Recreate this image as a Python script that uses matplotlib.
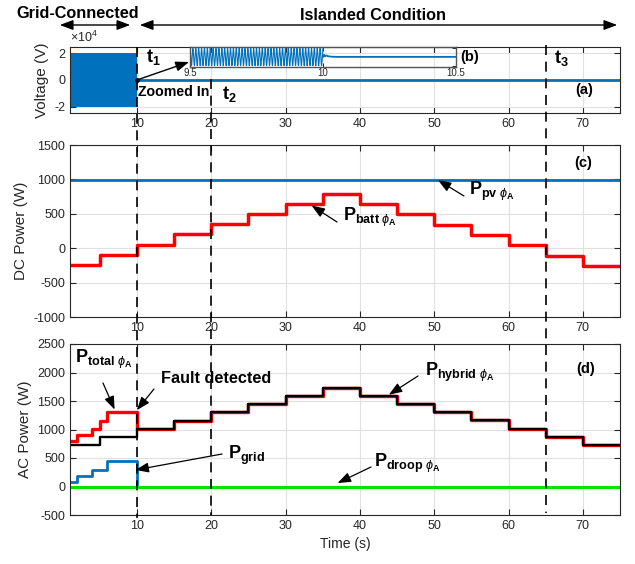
import numpy as np
import matplotlib.pyplot as plt
import matplotlib.transforms as mtransforms
from matplotlib.patches import FancyArrowPatch

plt.rcParams['font.family'] = ['Liberation Sans', 'DejaVu Sans']
plt.rcParams['axes.unicode_minus'] = False
plt.rcParams['mathtext.fontset'] = 'custom'
plt.rcParams['mathtext.rm'] = 'Liberation Sans'
plt.rcParams['mathtext.bf'] = 'Liberation Sans:bold'
plt.rcParams['mathtext.it'] = 'Liberation Sans:italic'

W, H = 635, 564

# ---- data ----
# (a) terminal voltage: envelope while grid-connected, then collapsed
v_grid_t = [1, 10]
v_grid_amp = [2.0e4, 2.0e4]
v_isl_t = [10, 75]
v_isl = [0, 0]
v_ticks = [-2, 0, 2]        # x 10^4

# (b) zoom 9.5 .. 10.5 s
zoom_freq = 92          # apparent cycles per second in the zoomed window
zoom_amp = 2.0e4
zoom_after_t = [10.0, 10.004, 10.008, 10.012, 10.018, 10.025, 10.035, 10.05, 10.5]
zoom_after_v = [0, 5000, 1500, 3500, 2000, 1200, 600, 300, 300]

# (c) DC power, load steps every 5 s
step_t = [1, 5, 10, 15, 20, 25, 30, 35, 40, 45, 50, 55, 60, 65, 70, 75]
p_batt = [-250, -100, 50, 200, 350, 490, 640, 790, 640, 490, 340, 195, 40, -110, -255]
p_pv = 990

# (d) AC power
p_hybrid = [720, 860, 1010, 1150, 1300, 1440, 1590, 1730, 1585, 1440, 1300, 1160, 1010, 870, 725]
total_t = [1, 2, 4, 5, 6, 10]
p_total = [790, 905, 1005, 1145, 1300]
grid_t = [1, 2, 4, 6, 10, 75]
p_grid = [75, 190, 285, 440, 0]
p_droop = 0

event_t = [10, 20, 65]

BLUE = '#0072BD'
GREY = '#262626'


def steps(edges, vals):
    x = np.repeat(edges, 2)[1:-1]
    y = np.repeat(vals, 2)
    return x, y


def fig_xy(px, py):
    return px / W, 1 - py / H


def style(ax):
    ax.tick_params(direction='in', top=True, right=True, length=4, width=0.8,
                   colors=GREY, labelsize=9)
    for s in ax.spines.values():
        s.set_color(GREY)
        s.set_linewidth(0.8)
    ax.grid(True, color='#e0e0e0', lw=0.8)
    ax.set_axisbelow(True)
    ax.set_xlim(1, 75)
    ax.set_xticks([10, 20, 30, 40, 50, 60, 70])


fig = plt.figure(figsize=(6.35, 5.64), dpi=100)
L, R = 70 / W, 550 / W
ax_a = fig.add_axes([L, 1 - 113 / H, R, 66 / H])
ax_c = fig.add_axes([L, 1 - 317 / H, R, 172 / H])
ax_d = fig.add_axes([L, 1 - 515 / H, R, 171 / H])

# (a)
style(ax_a)
ax_a.fill_between(v_grid_t, [-a for a in v_grid_amp], v_grid_amp, color=BLUE, lw=0)
ax_a.plot(v_isl_t, v_isl, color=BLUE, lw=2)
ax_a.set_ylim(-2.45e4, 2.45e4)
ax_a.set_yticks([v * 1e4 for v in v_ticks])
ax_a.set_yticklabels([str(v) for v in v_ticks])
ax_a.text(0, 1.03, r'$\times10^4$', transform=ax_a.transAxes, fontsize=9, color=GREY,
          ha='left', va='bottom')
ax_a.set_ylabel('Voltage (V)', fontsize=11, color=GREY, labelpad=4)

# (b) inset
ax_b = fig.add_axes([190 / W, 1 - 67 / H, 266 / W, 20 / H])
ax_b.set_facecolor('none')
tz = np.linspace(9.5, 10.0, 2000)
ax_b.plot(tz, zoom_amp * np.sin(2 * np.pi * zoom_freq * (tz - 9.5) + np.pi / 2), color=BLUE, lw=0.8)
ax_b.plot(zoom_after_t, zoom_after_v, color=BLUE, lw=1.3)
ax_b.set_xlim(9.5, 10.5)
ax_b.set_ylim(-2.3e4, 2.3e4)
ax_b.set_xticks([9.5, 10, 10.5])
ax_b.set_xticklabels(['9.5', '10', '10.5'])
ax_b.set_yticks([-2e4, 2e4])
ax_b.set_yticklabels([])
ax_b.tick_params(direction='in', top=True, right=True, left=False, length=3, width=0.7,
                 colors=GREY, labelsize=7, pad=1)
for s in ax_b.spines.values():
    s.set_color('#555555')
    s.set_linewidth(1.0)

# (c)
style(ax_c)
ax_c.plot([1, 75], [p_pv, p_pv], color=BLUE, lw=2)
ax_c.plot(*steps(step_t, p_batt), color='red', lw=2.5)
ax_c.set_ylim(-1000, 1500)
ax_c.set_yticks([-1000, -500, 0, 500, 1000, 1500])
ax_c.set_ylabel('DC Power (W)', fontsize=11, color=GREY, labelpad=4)

# (d)
style(ax_d)
ax_d.plot(*steps(grid_t, p_grid), color=BLUE, lw=2)
ax_d.plot([1, 75], [p_droop, p_droop], color='#00e600', lw=2.2)
ax_d.plot(*steps(total_t + step_t[3:], p_total + p_hybrid[2:]), color='red', lw=2.4)
ax_d.plot(*steps(step_t, p_hybrid), color='black', lw=1.7)
ax_d.set_ylim(-500, 2500)
ax_d.set_yticks([-500, 0, 500, 1000, 1500, 2000, 2500])
ax_d.set_ylabel('AC Power (W)', fontsize=11, color=GREY, labelpad=4)
ax_d.set_xlabel('Time (s)', fontsize=10, color=GREY, labelpad=4)

# event markers crossing all panels
tr = mtransforms.blended_transform_factory(ax_d.transData, fig.transFigure)
for t, (y0, y1) in zip(event_t, [(47, 518), (79, 515), (45, 513)]):
    fig.add_artist(plt.Line2D([t, t], [1 - y0 / H, 1 - y1 / H], transform=tr,
                              color='black', lw=1.2, ls=(0, (6, 4))))

# top banners
bold = dict(fontweight='bold', color='black')
fig.text(*fig_xy(78, 18), 'Grid-Connected', ha='center', va='baseline', fontsize=11.7, **bold)
fig.text(*fig_xy(373, 20), 'Islanded Condition', ha='center', va='baseline', fontsize=11.7, **bold)
for x0, x1 in [(57, 133), (137, 620)]:
    fig.add_artist(FancyArrowPatch(fig_xy(x0, 25), fig_xy(x1, 25), transform=fig.transFigure,
                                   arrowstyle='<|-|>,head_length=0.8,head_width=0.3',
                                   mutation_scale=10, color='black', lw=1))

# panel labels
fig.text(*fig_xy(146, 62), r'$\mathbf{t}_{\mathbf{1}}$', fontsize=13, va='baseline')
fig.text(*fig_xy(222, 99), r'$\mathbf{t}_{\mathbf{2}}$', fontsize=13, va='baseline')
fig.text(*fig_xy(554, 63), r'$\mathbf{t}_{\mathbf{3}}$', fontsize=13, va='baseline')
fig.text(*fig_xy(138, 92), 'Zoomed In', fontsize=10.2, va='center', **bold)
fig.text(*fig_xy(575, 90), '(a)', fontsize=10.5, va='center', **bold)
fig.text(*fig_xy(460, 57), '(b)', fontsize=10.5, va='center', **bold)
fig.text(*fig_xy(574, 163), '(c)', fontsize=10.5, va='center', **bold)
fig.text(*fig_xy(576, 369), '(d)', fontsize=10.5, va='center', **bold)

ax_a.plot([10], [0], 'ko', ms=2.5)
ax_a.annotate('', xy=fig_xy(189, 62), xycoords='figure fraction',
              xytext=(10, 0), textcoords='data',
              arrowprops=dict(arrowstyle='-|>,head_length=0.8,head_width=0.3',
                              mutation_scale=10, color='black', lw=1, shrinkA=0, shrinkB=0))

# callouts: (axes, label, label pixel, tail pixel, head in data)
callouts = [
    (ax_c, r'$\mathbf{P}_{\mathbf{pv}\ \phi_{\mathbf{A}}}$', (469, 195), (464, 196), (50.5, 990)),
    (ax_c, r'$\mathbf{P}_{\mathbf{batt}\ \phi_{\mathbf{A}}}$', (343, 221), (337, 222), (33.5, 620)),
    (ax_d, r'$\mathbf{P}_{\mathbf{total}\ \phi_{\mathbf{A}}}$', (75, 363), (103, 383), (7.0, 1350)),
    (ax_d, 'Fault detected', (161, 383), (154, 389), (10.0, 1340)),
    (ax_d, r'$\mathbf{P}_{\mathbf{grid}}$', (228, 459), (222, 454), (9.8, 290)),
    (ax_d, r'$\mathbf{P}_{\mathbf{hybrid}\ \phi_{\mathbf{A}}}$', (425, 376), (418, 376), (43.9, 1610)),
    (ax_d, r'$\mathbf{P}_{\mathbf{droop}\ \phi_{\mathbf{A}}}$', (374, 467), (371, 467), (37.0, 60)),
]
for ax, label, lpos, tail, head in callouts:
    size = 11.7 if label == 'Fault detected' else 13
    fig.text(*fig_xy(*lpos), label, fontsize=size, va='baseline', **bold)
    ax.annotate('', xy=head, xytext=fig_xy(*tail), textcoords='figure fraction',
                arrowprops=dict(arrowstyle='-|>,head_length=0.8,head_width=0.3',
                                mutation_scale=10, color='black', lw=0.9,
                                shrinkA=0, shrinkB=0))

fig.savefig('out.png', dpi=100)
